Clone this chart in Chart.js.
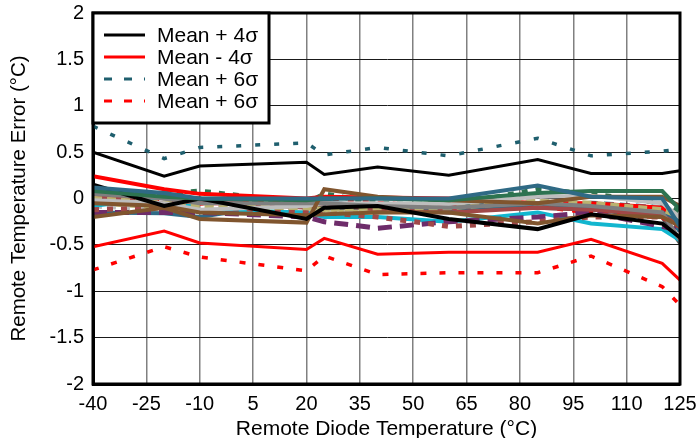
<!DOCTYPE html>
<html>
<head>
<meta charset="utf-8">
<script src="https://cdn.jsdelivr.net/npm/chart.js@4/dist/chart.umd.min.js"></script>
<style>
  html, body { margin: 0; padding: 0; background: #fff; }
  #wrap { width: 696px; height: 438px; }
</style>
</head>
<body>
<div id="wrap"><canvas id="errChart" width="696" height="438"></canvas></div>
<script>
// x values (remote diode temperature, °C)
const temps = [-40, -20, -10, 20, 25, 40, 60, 85, 100, 120, 125];

// statistical bounds
const meanPlus4 = [0.50, 0.24, 0.35, 0.39, 0.26, 0.34, 0.25, 0.42, 0.27, 0.27, 0.30];
const meanMinus4 = [-0.52, -0.35, -0.48, -0.55, -0.43, -0.60, -0.58, -0.58, -0.44, -0.70, -0.88];
const meanPlus6 = [0.78, 0.43, 0.55, 0.60, 0.47, 0.55, 0.46, 0.65, 0.46, 0.51, 0.53];
const meanMinus6 = [-0.77, -0.52, -0.63, -0.78, -0.62, -0.82, -0.80, -0.80, -0.62, -0.95, -1.15];

// individual devices
const dev01 = [0.12, 0.06, 0.00, 0.00, 0.00, 0.00, 0.00, 0.14, 0.02, 0.00, -0.30];
const dev02 = [0.08, 0.02, 0.00, -0.02, 0.00, 0.00, -0.02, 0.06, 0.08, 0.08, -0.12];
const dev03 = [0.15, -0.08, 0.00, -0.22, -0.10, -0.08, -0.22, -0.33, -0.17, -0.27, -0.42];
const dev04 = [-0.20, -0.10, -0.22, -0.26, 0.10, 0.02, -0.02, -0.05, 0.02, 0.02, -0.08];
const dev05 = [-0.05, -0.08, -0.15, -0.18, -0.17, -0.15, -0.15, -0.27, -0.18, -0.20, -0.30];
const dev06 = [0.05, 0.00, -0.05, -0.05, -0.05, -0.08, -0.10, -0.05, -0.08, -0.15, -0.45];
const dev07 = [-0.02, -0.05, -0.12, -0.08, -0.05, -0.05, -0.06, 0.02, 0.03, -0.05, -0.20];
const dev08 = [0.00, -0.05, -0.08, -0.10, -0.12, -0.10, -0.10, -0.03, -0.05, -0.12, -0.20];
const dev09 = [0.03, -0.05, -0.03, -0.10, -0.05, -0.12, -0.15, -0.10, -0.12, -0.18, -0.30];
const dev10 = [-0.12, -0.10, -0.08, -0.15, -0.15, -0.20, -0.30, -0.25, -0.20, -0.20, -0.30];
const dev11 = [-0.15, -0.15, -0.15, -0.20, -0.25, -0.32, -0.25, -0.20, -0.15, -0.30, -0.35];
const dev12 = [-0.08, 0.02, -0.12, -0.15, -0.20, -0.20, -0.25, -0.15, -0.27, -0.33, -0.45];
const dev13 = [-0.15, -0.16, -0.20, -0.02, -0.03, -0.10, -0.15, -0.05, -0.10, -0.15, -0.25];
const dev14 = [0.02, -0.02, -0.05, -0.02, -0.02, -0.05, -0.10, -0.08, -0.15, -0.20, -0.30];
const dev15 = [0.24, 0.10, 0.05, 0.00, 0.02, 0.01, 0.00, -0.05, -0.05, -0.10, -0.30];
const dev16 = [0.08, 0.00, -0.03, -0.08, -0.10, -0.10, -0.12, -0.10, -0.12, -0.20, -0.48];
const dev17 = [0.05, 0.05, 0.08, -0.05, 0.05, -0.05, -0.08, 0.10, 0.05, -0.05, -0.15];
const dev18 = [-0.08, -0.12, -0.05, -0.12, -0.15, -0.12, -0.08, -0.02, -0.08, -0.10, -0.20];
const dev19 = [-0.05, -0.10, -0.12, -0.15, -0.12, -0.15, -0.12, -0.08, -0.10, -0.12, -0.20];
const dev20 = [0.10, 0.02, -0.03, -0.05, -0.05, -0.08, -0.05, -0.10, -0.05, -0.10, -0.35];

const devices = [dev01, dev02, dev03, dev04, dev05, dev06, dev07, dev08, dev09, dev10,
                 dev11, dev12, dev13, dev14, dev15, dev16, dev17, dev18, dev19, dev20];

// colour / dash per device
const devStyles = [
    ['#2F6A85', null], ['#2D7350', null], ['#000000', null], ['#80552E', null],
    ['#80552E', null], ['#7F7F7F', null], ['#BDBDBD', null], ['#BAB270', [9, 5]],
    ['#A04848', null], ['#A04848', [6, 8]], ['#6E2C6A', [14, 8]], ['#12B6CF', null],
    ['#2F6A85', null], ['#FF0000', [6, 9]], ['#FF0000', null], ['#595959', null],
    ['#2D7350', [6, 8]], ['#BDBDBD', [9, 5]], ['#BAB270', null], ['#2F6A85', [10, 6]]
];

const FONT = 'Liberation Sans, Arial, sans-serif';

const pts = arr => arr.map((v, i) => ({ x: temps[i], y: v }));

const datasets = [
    { label: 'Mean + 4σ', data: pts(meanPlus4), borderColor: '#000000', borderWidth: 3 },
    { label: 'Mean - 4σ', data: pts(meanMinus4), borderColor: '#FF0000', borderWidth: 3 },
    { label: 'Mean + 6σ', data: pts(meanPlus6), borderColor: '#1F5F6E', borderWidth: 3.5, borderDash: [5, 14] },
    { label: 'Mean + 6σ', data: pts(meanMinus6), borderColor: '#FF0000', borderWidth: 3.5, borderDash: [6, 13] }
];

devices.forEach((d, i) => {
    datasets.push({
        label: 'dev' + (i + 1),
        data: pts(d),
        borderColor: devStyles[i][0],
        borderWidth: devStyles[i][1] ? 5 : 4,
        borderDash: devStyles[i][1] || []
    });
});

// frame around plot + boxed legend inside plot area
const framePlugin = {
    id: 'frame',
    afterDatasetsDraw(chart) {
        const { ctx, chartArea: a } = chart;
        ctx.save();
        ctx.strokeStyle = '#000';
        ctx.lineWidth = 3;
        ctx.strokeRect(a.left, a.top, a.right - a.left, a.bottom - a.top);
        ctx.restore();
    },
    afterDraw(chart) {
        const { ctx, chartArea: a } = chart;
        ctx.save();
        const bx = a.left, by = a.top, bw = 176, bh = 110;
        ctx.fillStyle = '#fff';
        ctx.fillRect(bx, by, bw, bh);
        ctx.strokeStyle = '#000';
        ctx.lineWidth = 3;
        ctx.strokeRect(bx, by, bw, bh);
        ctx.font = '21px ' + FONT;
        ctx.textBaseline = 'middle';
        ctx.fillStyle = '#000';
        for (let i = 0; i < 4; i++) {
            const ds = chart.data.datasets[i];
            const y = by + 22 + i * 22;
            ctx.beginPath();
            ctx.strokeStyle = ds.borderColor;
            ctx.lineWidth = 3;
            ctx.setLineDash(ds.borderDash ? [8, 12] : []);
            ctx.moveTo(bx + 11, y);
            ctx.lineTo(bx + 52, y);
            ctx.stroke();
            ctx.setLineDash([]);
            ctx.fillText(ds.label, bx + 64, y + 1);
        }
        ctx.restore();
    }
};

new Chart(document.getElementById('errChart').getContext('2d'), {
    type: 'line',
    data: { datasets },
    options: {
        responsive: false,
        animation: false,
        events: [],
        layout: { padding: { top: 13, right: 16, left: 0, bottom: 0 } },
        elements: { point: { radius: 0 }, line: { tension: 0, fill: false } },
        plugins: { legend: { display: false }, tooltip: { enabled: false } },
        scales: {
            x: {
                type: 'linear',
                min: -40, max: 125,
                afterFit(scale) {
                    scale.height = 54;
                    scale.paddingLeft = 0;
                    scale.paddingRight = 0;
                },
                ticks: { stepSize: 15, color: '#000', padding: 8, maxRotation: 0,
                         font: { family: FONT, size: 20 } },
                grid: { color: '#808080', lineWidth: 1.5, drawTicks: false },
                border: { color: '#000', width: 3 },
                title: { display: true, text: 'Remote Diode Temperature (°C)', color: '#000',
                         font: { family: FONT, size: 21, lineHeight: 1 }, padding: { top: 0, bottom: -2 } }
            },
            y: {
                min: -2, max: 2,
                afterFit(scale) {
                    scale.width = 93;
                    scale.paddingTop = 0;
                    scale.paddingBottom = 0;
                },
                ticks: { stepSize: 0.5, color: '#000', padding: 9,
                         font: { family: FONT, size: 20 },
                         callback: v => String(v) },
                grid: { color: '#1a1a1a', lineWidth: 1, drawTicks: false },
                border: { color: '#000', width: 3 },
                title: { display: true, text: 'Remote Temperature Error (°C)', color: '#000',
                         font: { family: FONT, size: 20.5, lineHeight: 1 }, padding: { top: 9, bottom: 0 } }
            }
        }
    },
    plugins: [framePlugin]
});
</script>
</body>
</html>
